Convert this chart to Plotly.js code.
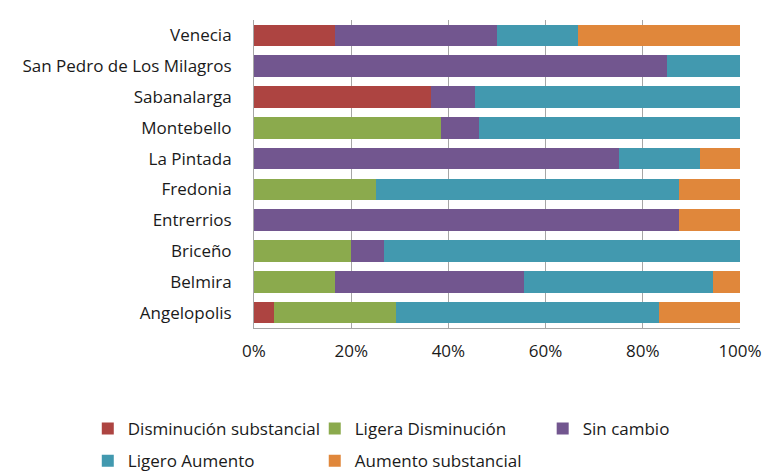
<!DOCTYPE html>
<html>
<head>
<meta charset="utf-8">
<script src="https://cdn.plot.ly/plotly-3.0.1.min.js"></script>
<style>html,body{margin:0;padding:0;background:#fff;}#chart{width:764px;height:476px;}</style>
</head>
<body>
<div id="chart"></div>
<script>
const categories = ["Angelopolis","Belmira","Briceño","Entrerrios","Fredonia","La Pintada","Montebello","Sabanalarga","San Pedro de Los Milagros","Venecia"];
const seriesNames = ["Disminución substancial","Ligera Disminución","Sin cambio","Ligero Aumento","Aumento substancial"];
const disminucionSubstancial = [4.2, 0, 0, 0, 0, 0, 0, 36.4, 0, 16.7];
const ligeraDisminucion      = [25.0, 16.7, 20.0, 0, 25.0, 0, 38.5, 0, 0, 0];
const sinCambio              = [0, 38.9, 6.7, 87.5, 0, 75.0, 7.7, 9.1, 85.0, 33.3];
const ligeroAumento          = [54.2, 38.9, 73.3, 0, 62.5, 16.7, 53.8, 54.5, 15.0, 16.7];
const aumentoSubstancial     = [16.7, 5.6, 0, 12.5, 12.5, 8.3, 0, 0, 0, 33.3];
const tickValues = [0, 20, 40, 60, 80, 100];
const tickLabels = ["0%","20%","40%","60%","80%","100%"];
const colors = ["#AD4441","#8BAA4D","#72568F","#4299AF","#E0873B"];

const seriesValues = [disminucionSubstancial, ligeraDisminucion, sinCambio, ligeroAumento, aumentoSubstancial];
const legendOf = ["legend","legend2","legend3","legend","legend2"];
const traces = seriesNames.map((name, i) => ({
  type: "bar",
  orientation: "h",
  name: name,
  y: categories,
  x: seriesValues[i],
  legend: legendOf[i],
  legendgroup: "g" + i,
  marker: {color: colors[i], line: {width: 0}},
  hoverinfo: "x+y+name"
}));

const legendBase = {
  orientation: "v",
  xanchor: "left",
  yanchor: "top",
  yref: "container",
  y: 1 - 411 / 476,
  traceorder: "grouped",
  tracegroupgap: 7,
  font: {size: 17},
  itemsizing: "constant",
  bgcolor: "rgba(0,0,0,0)"
};

const layout = {
  width: 764, height: 476,
  barmode: "stack",
  bargap: 0.3,
  paper_bgcolor: "#ffffff",
  plot_bgcolor: "#ffffff",
  font: {family: "Open Sans, Noto Sans, sans-serif", size: 17, color: "#1a1a1a"},
  margin: {l: 254, r: 24, t: 20, b: 148},
  xaxis: {
    range: [0, 100],
    tickvals: tickValues,
    ticktext: tickLabels,
    showgrid: true,
    gridcolor: "#a6a6a6",
    gridwidth: 1,
    zeroline: false,
    showline: true,
    linecolor: "#a6a6a6",
    ticks: "",
    ticklabelstandoff: 8,
    tickfont: {size: 17},
    fixedrange: true
  },
  yaxis: {
    showline: true,
    linecolor: "#a6a6a6",
    ticks: "",
    ticklabelstandoff: 18,
    tickfont: {size: 17},
    fixedrange: true
  },
  legend: Object.assign({}, legendBase, {x: -0.342}),
  legend2: Object.assign({}, legendBase, {x: 0.125}),
  legend3: Object.assign({}, legendBase, {x: 0.594}),
  showlegend: true
};

Plotly.newPlot("chart", traces, layout, {displayModeBar: false, staticPlot: true});
</script>
</body>
</html>
